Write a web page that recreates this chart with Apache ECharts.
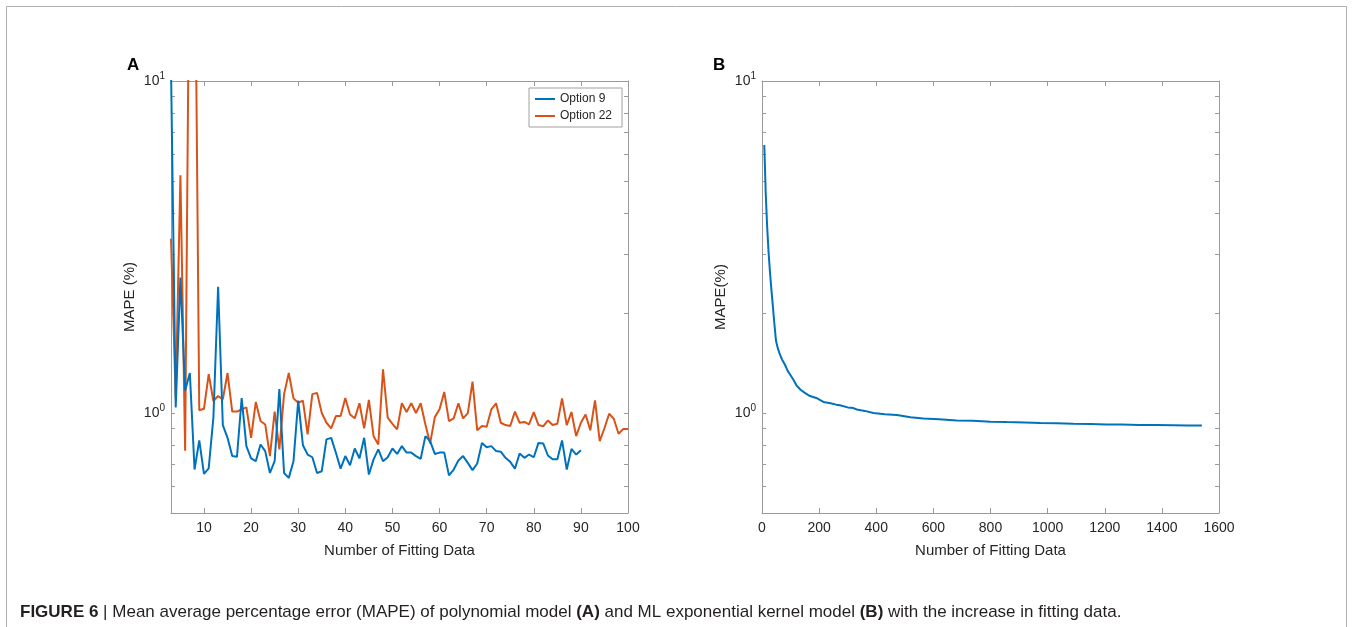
<!DOCTYPE html>
<html><head><meta charset="utf-8">
<script src="https://cdn.jsdelivr.net/npm/echarts@6/dist/echarts.min.js"></script>
<style>html,body{margin:0;padding:0;background:#fff}#c{width:1352px;height:627px}</style>
</head><body><div id="c"></div>
<script>
// ---- Panel A: polynomial model, MAPE vs number of fitting data (starting at n = 3)
const startA = 3;
const option9 = [11, 1.04, 2.56, 1.17, 1.32, 0.676, 0.827, 0.656, 0.681, 0.97,
  2.40, 0.92, 0.842, 0.742, 0.738, 1.11, 0.795, 0.73, 0.716, 0.804,
  0.768, 0.66, 0.716, 1.18, 0.66, 0.638, 0.716, 1.09, 0.80, 0.75,
  0.736, 0.66, 0.668, 0.833, 0.842, 0.759, 0.68, 0.742, 0.696, 0.782,
  0.73, 0.842, 0.653, 0.725, 0.777, 0.716, 0.736, 0.782, 0.753, 0.795,
  0.76, 0.76, 0.742, 0.728, 0.852, 0.823, 0.753, 0.76, 0.76, 0.649,
  0.676, 0.72, 0.742, 0.708, 0.673, 0.705, 0.813, 0.789, 0.795, 0.768,
  0.765, 0.733, 0.713, 0.68, 0.755, 0.733, 0.75, 0.736, 0.813, 0.81,
  0.745, 0.726, 0.726, 0.827, 0.676, 0.78, 0.75, 0.773];
const option22 = [3.35, 1.11, 5.2, 0.77, 40, 40, 1.02, 1.03, 1.31, 1.087,
  1.125, 1.10, 1.32, 1.01, 1.01, 1.026, 1.04, 0.842, 1.08, 0.946,
  0.924, 0.742, 1.01, 0.777, 1.14, 1.32, 1.107, 1.074, 1.09, 0.862,
  1.14, 1.15, 1.0, 0.935, 0.899, 0.979, 0.979, 1.11, 0.99, 0.964,
  1.07, 0.899, 1.095, 0.852, 0.804, 1.355, 0.968, 0.928, 0.893, 1.07,
  1.007, 1.07, 1.0, 1.07, 0.924, 0.81, 0.972, 1.026, 1.157, 0.946,
  0.964, 1.07, 0.964, 1.0, 1.243, 0.887, 0.914, 0.91, 1.026, 1.07,
  0.935, 0.92, 0.914, 1.01, 0.935, 0.94, 0.924, 1.007, 0.92, 0.912,
  0.95, 0.92, 0.928, 1.107, 0.92, 1.007, 0.852, 0.935, 0.99, 0.887,
  1.092, 0.823, 0.9, 0.995, 0.96, 0.866, 0.896, 0.896];

// ---- Panel B: ML exponential kernel model
const fittingB = [8, 13, 18, 23, 28, 33, 38, 43, 49, 56, 63, 70, 80, 90, 100, 110, 121, 135, 150, 168,
  190, 215, 240, 260, 273, 300, 320, 332, 360, 390, 430, 472, 520, 565, 620, 682, 740, 800, 857, 920,
  975, 1032, 1090, 1150, 1207, 1260, 1320, 1382, 1440, 1490, 1540];
const mapeB = [6.42, 4.6, 3.65, 3.05, 2.65, 2.35, 2.1, 1.87, 1.65, 1.56, 1.50, 1.45, 1.40, 1.34, 1.30, 1.26, 1.21, 1.175, 1.15, 1.125,
  1.11, 1.08, 1.07, 1.06, 1.055, 1.04, 1.035, 1.025, 1.015, 1.0, 0.992, 0.986, 0.972, 0.963, 0.958, 0.95, 0.948, 0.942, 0.939, 0.936,
  0.933, 0.931, 0.928, 0.927, 0.924, 0.923, 0.921, 0.92, 0.919, 0.917, 0.918];

// ---- tick labels
const xTicksA = [10, 20, 30, 40, 50, 60, 70, 80, 90, 100];
const yTickValues = [0.5, 0.6, 0.7, 0.8, 0.9, 1, 2, 3, 4, 5, 6, 7, 8, 9, 10];
const yLabelValues = [1, 10];
const seriesNames = ['Option 9', 'Option 22'];

const FONT = "'Liberation Sans', Arial, Helvetica, sans-serif";
const AX = '#9a9a9a';
const TXT = '#262626';
const BLUE = '#0072BD', ORANGE = '#D95319';

const chart = echarts.init(document.getElementById('c'), null, {renderer: 'canvas'});

function xAx(grid, pos, min, max, opts) {
  const main = pos === 'bottom';
  const o = {
    type: 'value', gridIndex: grid, position: pos, min: min, max: max,
    axisLine: {show: true, onZero: false, lineStyle: {color: AX, width: 1}},
    axisTick: {show: true, inside: true, length: 5, lineStyle: {color: AX}},
    axisLabel: {show: main, color: TXT, fontSize: 14, fontFamily: FONT, margin: 8,
      formatter: v => String(v)},
    splitLine: {show: false}
  };
  if (opts.custom) {
    o.axisTick.customValues = opts.custom;
    o.axisLabel.customValues = opts.custom;
  } else {
    o.interval = opts.interval;
  }
  if (main) {
    o.name = 'Number of Fitting Data';
    o.nameLocation = 'middle';
    o.nameGap = 30;
    o.nameTextStyle = {color: TXT, fontSize: 15, fontFamily: FONT};
  }
  return o;
}
function yAx(grid, pos, name) {
  const main = pos === 'left';
  const o = {
    type: 'log', logBase: 10, gridIndex: grid, position: pos, min: 0.5, max: 10,
    axisLine: {show: true, onZero: false, lineStyle: {color: AX, width: 1}},
    axisTick: {show: true, inside: true, length: 4, customValues: yTickValues, lineStyle: {color: AX}},
    axisLabel: {
      show: main, customValues: yLabelValues, margin: 6, fontFamily: FONT, color: TXT,
      formatter: v => (Math.abs(v - 1) < 1e-9 ? '{n|10}{s|0}' : '{n|10}{s|1}'),
      rich: {
        n: {fontSize: 14, fontFamily: FONT, color: TXT, lineHeight: 20},
        s: {fontSize: 10, fontFamily: FONT, color: TXT, verticalAlign: 'top', lineHeight: 12}
      }
    },
    splitLine: {show: false},
    minorTick: {show: false}
  };
  if (main) {
    o.name = name;
    o.nameLocation = 'middle';
    o.nameGap = 34;
    o.nameTextStyle = {color: TXT, fontSize: 15, fontFamily: FONT};
  }
  return o;
}

const dataA9 = option9.map((v, i) => [startA + i, v]);
const dataA22 = option22.map((v, i) => [startA + i, v]);
const dataB = fittingB.map((n, i) => [n, mapeB[i]]);

chart.setOption({
  animation: false,
  backgroundColor: '#fff',
  textStyle: {fontFamily: FONT},
  title: [
    {text: 'A', left: 122, top: 52, textStyle: {fontSize: 17, fontWeight: 'bold', color: '#000', fontFamily: FONT}},
    {text: 'B', left: 708, top: 52, textStyle: {fontSize: 17, fontWeight: 'bold', color: '#000', fontFamily: FONT}},
    {
      text: '{b|FIGURE 6} {r|| Mean average percentage error (MAPE) of polynomial model }{b|(A)}{r| and ML exponential kernel model }{b|(B)}{r| with the increase in fitting data.}',
      left: 15, top: 599,
      textStyle: {
        fontSize: 17, fontWeight: 'normal', color: '#231f20', fontFamily: FONT,
        rich: {
          b: {fontSize: 17, fontWeight: 'bold', color: '#231f20', fontFamily: FONT},
          r: {fontSize: 17, fontWeight: 'normal', color: '#231f20', fontFamily: FONT}
        }
      }
    }
  ],
  graphic: [{
    type: 'rect', silent: true, z: -1,
    shape: {x: 6.5, y: 6.5, width: 1340, height: 700},
    style: {fill: 'none', stroke: '#b0b0b0', lineWidth: 1}
  }],
  legend: {
    data: seriesNames, left: 529, top: 88, orient: 'vertical',
    backgroundColor: '#fff', borderColor: '#a0a0a0', borderWidth: 1,
    padding: [5, 10, 5, 6], itemGap: 5, itemWidth: 20, itemHeight: 2, icon: 'rect',
    textStyle: {fontSize: 12, color: TXT, fontFamily: FONT}
  },
  grid: [
    {left: 171, top: 81, width: 457, height: 432},
    {left: 762, top: 81, width: 457, height: 432}
  ],
  xAxis: [
    xAx(0, 'bottom', 3, 100, {custom: xTicksA}),
    xAx(0, 'top', 3, 100, {custom: xTicksA}),
    xAx(1, 'bottom', 0, 1600, {interval: 200}),
    xAx(1, 'top', 0, 1600, {interval: 200})
  ],
  yAxis: [
    yAx(0, 'left', 'MAPE (%)'),
    yAx(0, 'right'),
    yAx(1, 'left', 'MAPE(%)'),
    yAx(1, 'right')
  ],
  series: [
    {name: seriesNames[0], type: 'line', xAxisIndex: 0, yAxisIndex: 0, data: dataA9, showSymbol: false, symbol: 'none',
      lineStyle: {color: BLUE, width: 2}, itemStyle: {color: BLUE}, clip: true, z: 3},
    {name: seriesNames[1], type: 'line', xAxisIndex: 0, yAxisIndex: 0, data: dataA22, showSymbol: false, symbol: 'none',
      lineStyle: {color: ORANGE, width: 2}, itemStyle: {color: ORANGE}, clip: true, z: 2},
    {name: 'B', type: 'line', xAxisIndex: 2, yAxisIndex: 2, data: dataB, showSymbol: false, symbol: 'none',
      lineStyle: {color: BLUE, width: 2}, itemStyle: {color: BLUE}, clip: true}
  ]
});
</script>
</body></html>
